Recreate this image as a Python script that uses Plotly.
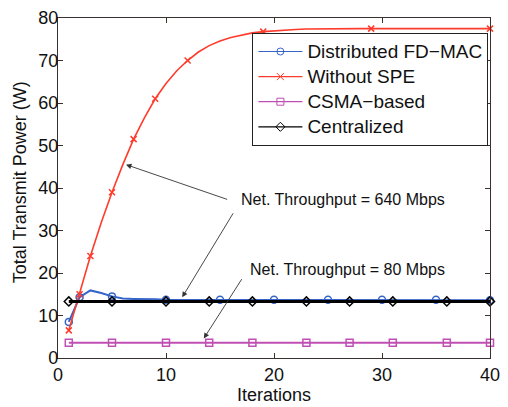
import plotly.graph_objects as go

# ---- data ----
iters = list(range(1, 41))
without_spe = [6.5, 15.0, 24.0, 31.8, 39.0, 45.5, 51.5, 56.5, 61.0, 64.6,
               67.6, 70.0, 72.0, 73.5, 74.6, 75.4, 76.0, 76.5, 76.8, 77.0,
               77.2, 77.3, 77.4, 77.45, 77.5, 77.5, 77.5, 77.5, 77.5, 77.5,
               77.5, 77.5, 77.5, 77.5, 77.5, 77.5, 77.5, 77.5, 77.5, 77.5]
spe_marks = [1, 2, 3, 5, 7, 9, 12, 19, 29, 40]

distributed = [8.5, 14.3, 15.9, 15.3, 14.5, 14.0, 13.9, 13.9, 13.8, 13.7,
               13.7, 13.7, 13.7, 13.7, 13.7, 13.7, 13.7, 13.7, 13.7, 13.7,
               13.7, 13.7, 13.7, 13.7, 13.7, 13.7, 13.7, 13.7, 13.7, 13.7,
               13.7, 13.7, 13.7, 13.7, 13.7, 13.7, 13.7, 13.7, 13.7, 13.6]
dist_marks = [1, 2, 5, 10, 15, 20, 25, 30, 35, 40]

csma = [3.6] * 40
centralized = [13.3] * 40
flat_marks = [1, 5, 10, 14, 18, 23, 27, 31, 36, 40]

names = ["Distributed FD\u2212MAC", "Without SPE", "CSMA\u2212based", "Centralized"]
colors = ["#3565c8", "#ff3b2b", "#c04fb4", "#000000"]
symbols = ["circle-open", "x-thin-open", "square-open", "diamond-open"]
msizes = [7, 6, 7, 7]
widths = [2, 1.6, 2, 2.8]
series = [distributed, without_spe, csma, centralized]
marks = [dist_marks, spe_marks, flat_marks, flat_marks]

fig = go.Figure()
for name, col, sym, ms, w, ys, mk in zip(names, colors, symbols, msizes, widths, series, marks):
    fig.add_trace(go.Scatter(x=iters, y=ys, mode="lines",
                             line=dict(color=col, width=w), showlegend=False))
    fig.add_trace(go.Scatter(x=mk, y=[ys[i - 1] for i in mk], mode="markers",
                             marker=dict(symbol=sym, size=ms, color=col,
                                         line=dict(color=col, width=1.5)),
                             showlegend=False, cliponaxis=False))
for name, col, sym in zip(names, colors, symbols):
    fig.add_trace(go.Scatter(x=[None], y=[None], mode="lines+markers",
                             name='<span style="font-size:19px">' + name + '</span>',
                             line=dict(color=col, width=1.2),
                             marker=dict(symbol=sym, size=7, color=col,
                                         line=dict(color=col, width=1))))

font_fam = "Liberation Sans, Arial, sans-serif"
ann_col = "#333333"
arrows = [((6.3, 45.5), (15.8, 37.2)),
          ((11.5, 14.3), (16.3, 34.4)),
          ((13.5, 4.6), (17.1, 18.9))]
for (hx, hy), (tx, ty) in arrows:
    fig.add_annotation(x=hx, y=hy, ax=tx, ay=ty, xref="x", yref="y",
                       axref="x", ayref="y", text="", showarrow=True,
                       arrowhead=2, arrowsize=1.2, arrowwidth=0.9,
                       arrowcolor=ann_col)
fig.add_annotation(x=26.4, y=37.2, xref="x", yref="y", showarrow=False,
                   text="Net. Throughput = 640 Mbps",
                   font=dict(family=font_fam, size=16, color="#111"),
                   bgcolor="white")
fig.add_annotation(x=26.8, y=20.9, xref="x", yref="y", showarrow=False,
                   text="Net. Throughput = 80 Mbps",
                   font=dict(family=font_fam, size=16, color="#111"),
                   bgcolor="white")
fig.add_annotation(x=-0.088, y=0.517, xref="paper", yref="paper", showarrow=False,
                   xanchor="center", yanchor="middle",
                   text="Total Transmit Power (W)", textangle=-90,
                   font=dict(family=font_fam, size=18, color="#111"))

axis_col = "#3a3030"
fig.update_xaxes(range=[0, 40], tickvals=[0, 10, 20, 30, 40],
                 ticks="inside", ticklen=5, tickcolor=axis_col,
                 showline=True, linecolor=axis_col, linewidth=1.2, mirror="ticks",
                 showgrid=False, zeroline=False, ticklabeloverflow="allow",
                 tickfont=dict(family=font_fam, size=18, color="#111"),
                 title=dict(text="Iterations", standoff=2,
                            font=dict(family=font_fam, size=18, color="#111")))
fig.update_yaxes(range=[0, 80], tickvals=list(range(0, 81, 10)),
                 ticks="inside", ticklen=5, tickcolor=axis_col,
                 showline=True, ticklabelstandoff=-5,
                 linecolor=axis_col, linewidth=1.2, mirror="ticks",
                 showgrid=False, zeroline=False,
                 tickfont=dict(family=font_fam, size=18, color="#111"))

fig.update_layout(width=508, height=407, plot_bgcolor="white", paper_bgcolor="white",
                  margin=dict(l=58, r=8, t=13, b=48),
                  legend=dict(x=0.45, y=0.956, xanchor="left", yanchor="top",
                              bgcolor="white", bordercolor="#222", borderwidth=1,
                              font=dict(family=font_fam, size=17, color="#111"),
                              tracegroupgap=0, itemwidth=44))

fig.write_html("out.html")
